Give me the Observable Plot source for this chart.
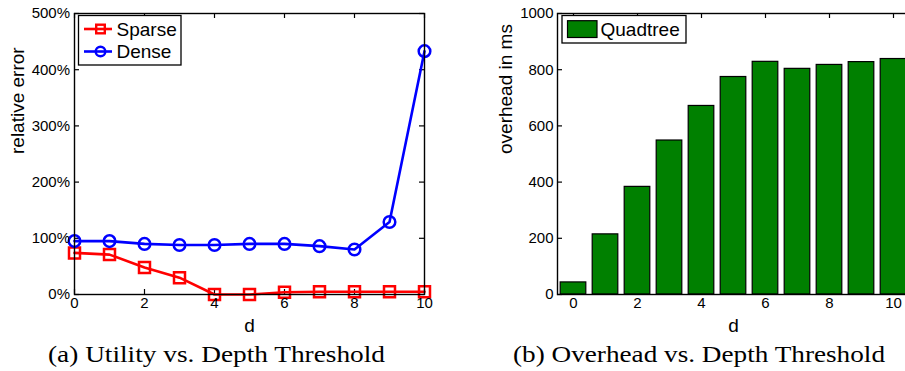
<!DOCTYPE html>
<html><head><meta charset="utf-8">
<script src="https://cdn.jsdelivr.net/npm/d3@7"></script>
<script src="https://cdn.jsdelivr.net/npm/@observablehq/plot@0.6"></script>
<style>
html,body{margin:0;padding:0;background:#fff;overflow:hidden;}
#wrap{position:relative;width:905px;height:371px;overflow:hidden;background:#fff;}
.abs{position:absolute;}
</style></head><body><div id="wrap"></div>
<script>
// ---- data ----
const depth = [0,1,2,3,4,5,6,7,8,9,10];
const sparseErr = [74,71,48,30,0,0,4,5,5,5,5];
const denseErr = [95,95,90,88,88,90,90,86,80,129,433];
const overheadMs = [43,214,383,548,671,774,828,803,817,827,838];
const xTickVals = [0,2,4,6,8,10];
const errTicks = [0,100,200,300,400,500];
const msTicks = [0,200,400,600,800,1000];
const seriesNames = ["Sparse","Dense"];
const seriesColors = ["#ff0000","#0000ff"];
const barName = "Quadtree";
const barColor = "#008000";
const captions = ["(a) Utility vs. Depth Threshold","(b) Overhead vs. Depth Threshold"];
const xLabel = "d";
const yLabels = ["relative error","overhead in ms"];

// ---- layout ----
const SANS = '"Liberation Sans", Arial, Helvetica, sans-serif';
const W = 460, H = 340, MT = 13, MB = 46;
const wrap = document.getElementById("wrap");

function boxTicks(xt, yt, iw, ih, len = 5) {
  return [
    Plot.tickX(xt, {x: d => d, insetTop: ih - len, strokeWidth: 1.2}),
    Plot.tickX(xt, {x: d => d, insetBottom: ih - len, strokeWidth: 1.2}),
    Plot.tickY(yt, {y: d => d, insetRight: iw - len, strokeWidth: 1.2}),
    Plot.tickY(yt, {y: d => d, insetLeft: iw - len, strokeWidth: 1.2})
  ];
}

const errRows = depth.flatMap((d, i) => [
  {d, v: sparseErr[i], s: seriesNames[0]},
  {d, v: denseErr[i], s: seriesNames[1]}
]);

// ---- chart (a) ----
const mlA = 74, mrA = 36;
const chartA = Plot.plot({
  width: W, height: H, marginLeft: mlA, marginRight: mrA, marginTop: MT, marginBottom: MB,
  style: {fontFamily: SANS, fontSize: "15px", color: "black", background: "white", overflow: "visible"},
  x: {domain: [0, 10], axis: null},
  y: {domain: [0, 500], axis: null},
  color: {domain: seriesNames, range: seriesColors},
  marks: [
    ...boxTicks(xTickVals, errTicks, W - mlA - mrA, H - MT - MB),
    Plot.line(errRows, {x: "d", y: "v", z: "s", stroke: "s", strokeWidth: 2.6}),
    Plot.dot(errRows.filter(r => r.s === seriesNames[0]), {x: "d", y: "v", stroke: "s", symbol: "square", r: 6.2, strokeWidth: 2.5, fill: "none"}),
    Plot.dot(errRows.filter(r => r.s === seriesNames[1]), {x: "d", y: "v", stroke: "s", symbol: "circle", r: 5.8, strokeWidth: 2.5, fill: "none"}),
    Plot.frame({stroke: "black", strokeWidth: 1.4}),
    Plot.axisX(xTickVals, {tickSize: 0, tickPadding: 3, tickFormat: d => String(d), label: null, fontSize: 15}),
    Plot.axisY(errTicks, {tickSize: 0, tickPadding: 4.5, tickFormat: d => d + "%", label: null, fontSize: 15}),
    Plot.text([xLabel], {text: d => d, frameAnchor: "bottom", dy: 31, fontSize: 19, lineAnchor: "middle"}),
    Plot.text([yLabels[0]], {text: d => d, frameAnchor: "left", rotate: -90, dx: -56.5, fontSize: 19, lineAnchor: "middle"})
  ]
});
chartA.classList.add("abs");
chartA.style.left = "0px"; chartA.style.top = "0px";
wrap.appendChild(chartA);

// ---- chart (b) ----
const mlB = 97, mrB = 11;
const barRows = depth.map((d, i) => ({d, v: overheadMs[i]}));
const chartB = Plot.plot({
  width: W, height: H, marginLeft: mlB, marginRight: mrB, marginTop: MT, marginBottom: MB,
  style: {fontFamily: SANS, fontSize: "15px", color: "black", background: "white"},
  x: {domain: [-0.5, 10.5], axis: null},
  y: {domain: [0, 1000], axis: null},
  marks: [
    ...boxTicks(xTickVals, msTicks, W - mlB - mrB, H - MT - MB),
    Plot.rectY(barRows, {x1: r => r.d - 0.4, x2: r => r.d + 0.4, y: "v", fill: barColor, stroke: "black", strokeWidth: 1.2}),
    Plot.frame({stroke: "black", strokeWidth: 1.4}),
    Plot.axisX(xTickVals, {tickSize: 0, tickPadding: 3, tickFormat: d => String(d), label: null, fontSize: 15}),
    Plot.axisY(msTicks, {tickSize: 0, tickPadding: 4, tickFormat: d => String(d), label: null, fontSize: 15}),
    Plot.text([xLabel], {text: d => d, frameAnchor: "bottom", dy: 31, fontSize: 19, lineAnchor: "middle"}),
    Plot.text([yLabels[1]], {text: d => d, frameAnchor: "left", rotate: -90, dx: -52, fontSize: 19, lineAnchor: "middle"})
  ]
});
chartB.classList.add("abs");
chartB.style.left = "460px"; chartB.style.top = "0px";
wrap.appendChild(chartB);

// ---- legends & captions (overlay) ----
const NS = "http://www.w3.org/2000/svg";
function el(tag, attrs, parent) {
  const e = document.createElementNS(NS, tag);
  for (const k in attrs) e.setAttribute(k, attrs[k]);
  if (parent) parent.appendChild(e);
  return e;
}
const ov = el("svg", {width: 905, height: 371, class: "abs"});
ov.style.left = "0px"; ov.style.top = "0px";
wrap.appendChild(ov);

// legend (a)
const lgA = el("g", {transform: "translate(78.5,15.5)"}, ov);
el("rect", {x: 0, y: 0, width: 102.5, height: 49.5, fill: "white", stroke: "black", "stroke-width": 1.3}, lgA);
seriesNames.forEach((name, i) => {
  const y = 13.5 + i * 22.5;
  const c = seriesColors[i];
  el("line", {x1: 5.5, x2: 33.5, y1: y, y2: y, stroke: c, "stroke-width": 2.6}, lgA);
  if (i === 0) el("rect", {x: 22 - 4.3, y: y - 4.3, width: 8.6, height: 8.6, fill: "none", stroke: c, "stroke-width": 2.4}, lgA);
  else el("circle", {cx: 22, cy: y, r: 4.8, fill: "none", stroke: c, "stroke-width": 2.4}, lgA);
  const t = el("text", {x: 38, y: y, "dominant-baseline": "central", "font-size": 19, "font-family": SANS, fill: "black"}, lgA);
  t.textContent = name;
});

// legend (b)
const lgB = el("g", {transform: "translate(562,15.5)"}, ov);
el("rect", {x: 0, y: 0, width: 124, height: 27.5, fill: "white", stroke: "black", "stroke-width": 1.3}, lgB);
el("rect", {x: 5.5, y: 5.2, width: 29.5, height: 16.8, fill: barColor, stroke: "black", "stroke-width": 1.2}, lgB);
const tB = el("text", {x: 38.5, y: 14, "dominant-baseline": "central", "font-size": 19, "font-family": SANS, fill: "black"}, lgB);
tB.textContent = barName;

// captions
const capPos = [[48, 337], [513, 372]];
captions.forEach((c, i) => {
  const t = el("text", {x: capPos[i][0], y: 361.5, textLength: capPos[i][1], lengthAdjust: "spacingAndGlyphs",
    "font-size": 22.5, "font-family": '"Liberation Serif", "Times New Roman", serif', fill: "black"}, ov);
  t.textContent = c;
});
</script>
</body></html>
